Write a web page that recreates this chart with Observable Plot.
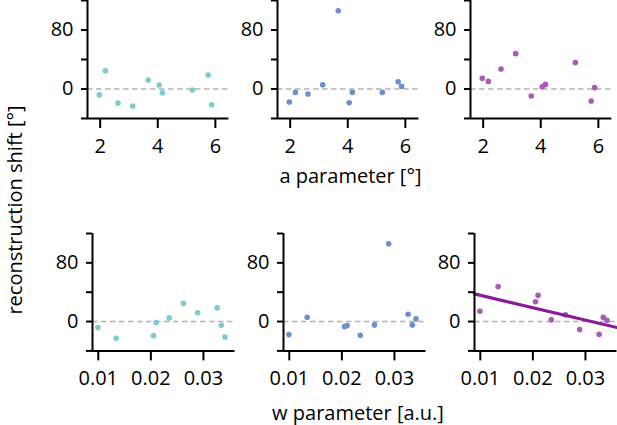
<!DOCTYPE html>
<html>
<head>
<meta charset="utf-8">
<script src="https://cdn.jsdelivr.net/npm/d3@7"></script>
<script src="https://cdn.jsdelivr.net/npm/@observablehq/plot@0.6"></script>
<style>
  html, body { margin: 0; padding: 0; background: #fff; overflow: hidden; }
  #root { position: relative; width: 617px; height: 425px; overflow: hidden; font-family: "Open Sans", sans-serif; }
  #root svg.panel { position: absolute; }
  #labels { position: absolute; left: 0; top: 0; overflow: visible; }
</style>
</head>
<body>
<div id="root"></div>
<script>
// ---- data ----
const aParam = [1.97, 2.18, 2.62, 3.13, 3.67, 4.05, 4.16, 5.2, 5.75, 5.87];
const shiftA1 = [-8, 24.8, -19, -23, 12.2, 5.4, -5, -1.4, 19, -21.3];
const shiftA2 = [-17.6, -4.6, -6.8, 5.8, 106, -18.6, -4.6, -4.6, 9.9, 3.5];
const shiftA3 = [14.4, 10.3, 27.1, 47.9, -9.5, 3.1, 6.2, 35.7, -16.3, 1.8];

const wParam = [0.00993, 0.0134, 0.0205, 0.0210, 0.0235, 0.0262, 0.0289, 0.0326, 0.0334, 0.0341];
const shiftW1 = [-8.2, -22.9, -19.2, -1.4, 5, 24.7, 11.9, 18.8, -5, -21];
const shiftW2 = [-17.8, 5.9, -6.9, -5.5, -18.8, -4.6, 106, 10, -4.6, 3.7];
const shiftW3 = [14.1, 47.6, 27, 35.7, 2.3, 9.2, -11, -17.4, 5.9, 1.8];

const aTicks = [2, 4, 6];
const wTicks = [0.01, 0.02, 0.03];
const yTicks = [-40, 0, 40, 80, 120];
const yLabeled = [0, 80];

const colors = ["#79cdd1", "#6f8fcc", "#a95bb7"];
const regColor = "#8b1a9b";

const yLabel = "reconstruction shift [°]";
const aLabel = "a parameter [°]";
const wLabel = "w parameter [a.u.]";

// ---- layout ----
const root = document.getElementById("root");
const mL = 60, mR = 10, mT = 8, mB = 50;

function panel({xs, ys, xDomain, xTicks, xFmt, color, left, top, plotW, plotH, reg}) {
  const data = xs.map((x, i) => ({x, y: ys[i]}));
  const marks = [
    Plot.ruleY([0], {stroke: "#b3b3b3", strokeWidth: 1.6, strokeDasharray: "5.5,3.5"}),
    Plot.dot(data, {x: "x", y: "y", r: 2.8, fill: color, stroke: "none"})
  ];
  if (reg) {
    const mx = d3.mean(xs), my = d3.mean(ys);
    const slope = d3.sum(xs, (x, i) => (x - mx) * (ys[i] - my)) / d3.sum(xs, x => (x - mx) ** 2);
    const line = xDomain.map(x => ({x, y: my + slope * (x - mx)}));
    marks.push(Plot.line(line, {x: "x", y: "y", stroke: regColor, strokeWidth: 3.2}));
  }
  marks.push(
    Plot.axisY(yTicks, {tickSize: 6, tickPadding: 8, strokeWidth: 2, fontSize: 20,
      tickFormat: d => yLabeled.includes(d) ? String(d) : ""}),
    Plot.axisX(xTicks, {tickSize: 10, tickPadding: 10, strokeWidth: 2, fontSize: 20, tickFormat: xFmt}),
    Plot.ruleX([xDomain[0]], {stroke: "#000", strokeWidth: 2}),
    Plot.ruleY([-40], {stroke: "#000", strokeWidth: 2})
  );
  const svg = Plot.plot({
    width: plotW + mL + mR,
    height: plotH + mT + mB,
    marginLeft: mL, marginRight: mR, marginTop: mT, marginBottom: mB,
    x: {domain: xDomain, label: null},
    y: {domain: [-40, 120], label: null},
    style: {background: "transparent", overflow: "visible", fontFamily: "'Open Sans', sans-serif", fontSize: "20px", color: "#000"},
    marks
  });
  svg.classList.add("panel");
  svg.style.left = (left - mL) + "px";
  svg.style.top = (top - mT) + "px";
  root.appendChild(svg);
}

const topRow = [shiftA1, shiftA2, shiftA3];
const topLefts = [87.3, 277.3, 469.5];
topRow.forEach((ys, i) => panel({
  xs: aParam, ys, xDomain: [1.56, 6.47], xTicks: aTicks, xFmt: d => String(d),
  color: colors[i], left: topLefts[i], top: -0.2, plotW: 141.4, plotH: 118, reg: false
}));

const botRow = [shiftW1, shiftW2, shiftW3];
const botLefts = [91.5, 282.5, 474.2];
botRow.forEach((ys, i) => panel({
  xs: wParam, ys, xDomain: [0.0089, 0.036], xTicks: wTicks, xFmt: d => d.toFixed(2),
  color: colors[i], left: botLefts[i], top: 233.3, plotW: 142.5, plotH: 117.4, reg: i === 2
}));

// ---- axis titles ----
const ns = "http://www.w3.org/2000/svg";
const lab = document.createElementNS(ns, "svg");
lab.setAttribute("id", "labels");
lab.setAttribute("width", 617);
lab.setAttribute("height", 425);
function addText(str, x, y, rot) {
  const t = document.createElementNS(ns, "text");
  t.textContent = str;
  t.setAttribute("text-anchor", "middle");
  t.setAttribute("font-family", "'Open Sans', sans-serif");
  t.setAttribute("font-size", 20);
  t.setAttribute("fill", "#000");
  if (rot) t.setAttribute("transform", `translate(${x},${y}) rotate(-90)`);
  else { t.setAttribute("x", x); t.setAttribute("y", y); }
  lab.appendChild(t);
}
addText(aLabel, 350.5, 183);
addText(wLabel, 358, 420);
addText(yLabel, 21.5, 210, true);
root.appendChild(lab);
</script>
</body>
</html>
